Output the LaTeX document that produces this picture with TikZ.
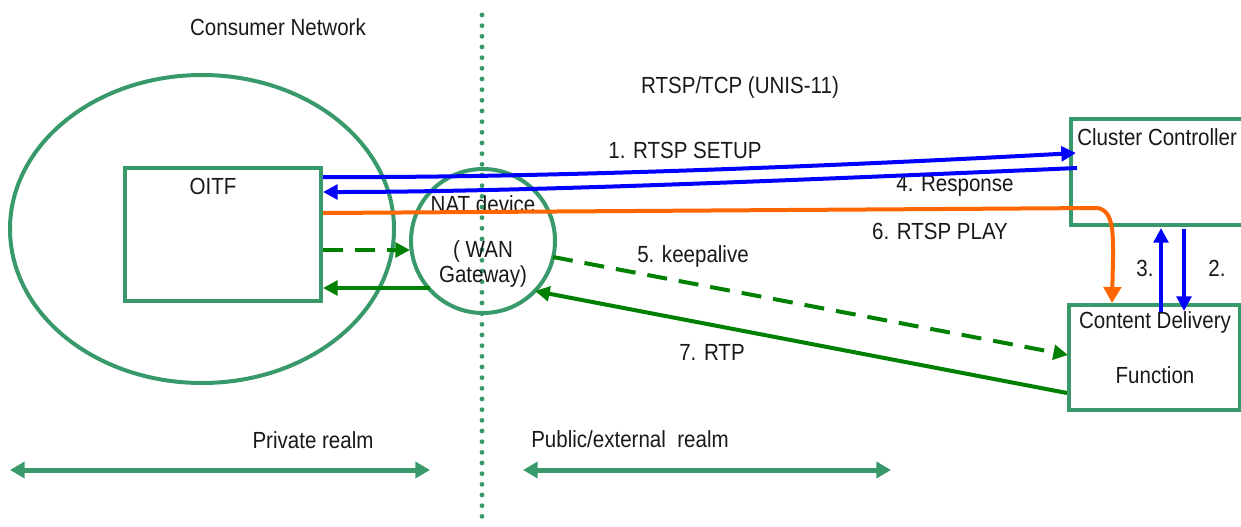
\documentclass[tikz,border=0pt]{standalone}
\usepackage{fontspec}
\setmainfont[FakeStretch=0.88]{Liberation Sans}
\usetikzlibrary{arrows.meta,shapes.geometric}
\definecolor{sg}{HTML}{38996B}
\definecolor{ggreen}{HTML}{008000}
\definecolor{bblue}{HTML}{0000FF}
\definecolor{oorange}{HTML}{FF6600}
\begin{document}
\begin{tikzpicture}[x=0.75pt,y=-0.75pt,
  lbl/.style={font=\fontsize{17.5}{20}\selectfont, inner sep=0pt, text=black!90},
  boxshape/.style={draw=sg, line width=3pt, rectangle, inner sep=0pt},
  tipb/.style={-{Triangle[length=11pt,width=11pt]}},
  bluearrow/.style={draw=bblue, line width=3pt},
  greenarrow/.style={draw=ggreen, line width=3pt},
  dashgreen/.style={draw=ggreen, line width=3pt, dash pattern=on 15pt off 9pt},
  realm/.style={draw=sg, line width=3.75pt, {Triangle[length=11pt,width=12pt]}-{Triangle[length=11pt,width=12pt]}}
]
\useasboundingbox (0,0) rectangle (1241,526);
\clip (0,0) rectangle (1241,526);

% divider
\draw[sg, line width=3.6pt, dash pattern=on 0pt off 8pt, line cap=round] (482,15) -- (482,526);

% shapes
\node[draw=sg, line width=3pt, ellipse, minimum width=288pt, minimum height=231pt, inner sep=0pt] (cn) at (202,229) {};
\node[boxshape, minimum width=147pt, minimum height=100pt] (oitf) at (223,234.5) {};
\node[draw=sg, line width=3pt, circle, minimum size=108pt, inner sep=0pt] (nat) at (483,241) {};
\node[boxshape, minimum width=131pt, minimum height=79.5pt] (cc) at (1158,172) {};
\node[boxshape, minimum width=128pt, minimum height=79pt] (cdf) at (1154.5,357.5) {};

% texts
\node[lbl] (tcn) at (278,27) {Consumer Network};
\node[lbl] (ttcp) at (740,87) {RTSP/TCP (UNIS-11)};
\node[lbl] (toitf) at (213,186) {OITF};
\node[lbl] (tnat1) at (483,204) {NAT device};
\node[lbl] (tnat2) at (483,251) {( WAN};
\node[lbl] (tnat3) at (483,276) {Gateway)};
\node[lbl, anchor=west] (tcc) at (1077,137) {Cluster Controller};
\node[lbl] (tcd1) at (1155,322) {Content Delivery};
\node[lbl] (tcd2) at (1155,375) {Function};
\node[lbl] (l1) at (685,150) {1. RTSP SETUP};
\node[lbl] (l4) at (955,186) {4. Response};
\node[lbl] (l6) at (940,231) {6. RTSP PLAY};
\node[lbl] (l5) at (693,256) {5. keepalive};
\node[lbl] (l7) at (712,352) {7. RTP};
\node[lbl] (l3) at (1145,268) {3.};
\node[lbl] (l2) at (1217,268) {2.};
\node[lbl] (lpr) at (313,440) {Private realm};
\node[lbl] (lpu) at (630,439) {Public/external\ \ realm};

% coordinates
\coordinate (s1) at (323,177);
\coordinate (e1) at (1076,153);
\coordinate (s4) at (1077,168);
\coordinate (e4) at (323,192);
\coordinate (so) at (323,213);
\coordinate (mo) at (1097,208);
\coordinate (eo) at (1112,303);
\coordinate (sd) at (323,250);
\coordinate (ed) at (410,250);
\coordinate (sg1) at (430,288);
\coordinate (eg1) at (323,288);
\coordinate (sk) at (553,257);
\coordinate (ek) at (1068,355);
\coordinate (sr) at (1067,393);
\coordinate (er) at (535,291);
\coordinate (s3) at (1161,312);
\coordinate (e3) at (1161,228);
\coordinate (s2) at (1184,229);
\coordinate (e2) at (1184,311);
\coordinate (pl) at (10,470);
\coordinate (pr) at (430,470);
\coordinate (ql) at (523,470);
\coordinate (qr) at (891,470);

% connectors
\draw[bluearrow, tipb] (s1) .. controls (520,178) and (800,168) .. (e1);
\draw[bluearrow, tipb] (s4) .. controls (800,180) and (520,192) .. (e4);
\draw[draw=oorange, line width=3pt, -{Triangle[length=12pt,width=13pt]}] (so) -- (mo) .. controls (1114,210) and (1113,235) .. (1113,258) -- (eo);
\draw[dashgreen, tipb] (sd) -- (ed);
\draw[greenarrow, tipb] (sg1) -- (eg1);
\draw[dashgreen, tipb] (sk) -- (ek);
\draw[greenarrow, tipb] (sr) -- (er);
\draw[bluearrow, tipb] (s3) -- (e3);
\draw[bluearrow, tipb] (s2) -- (e2);
\draw[realm] (pl) -- (pr);
\draw[realm] (ql) -- (qr);
\end{tikzpicture}
\end{document}
